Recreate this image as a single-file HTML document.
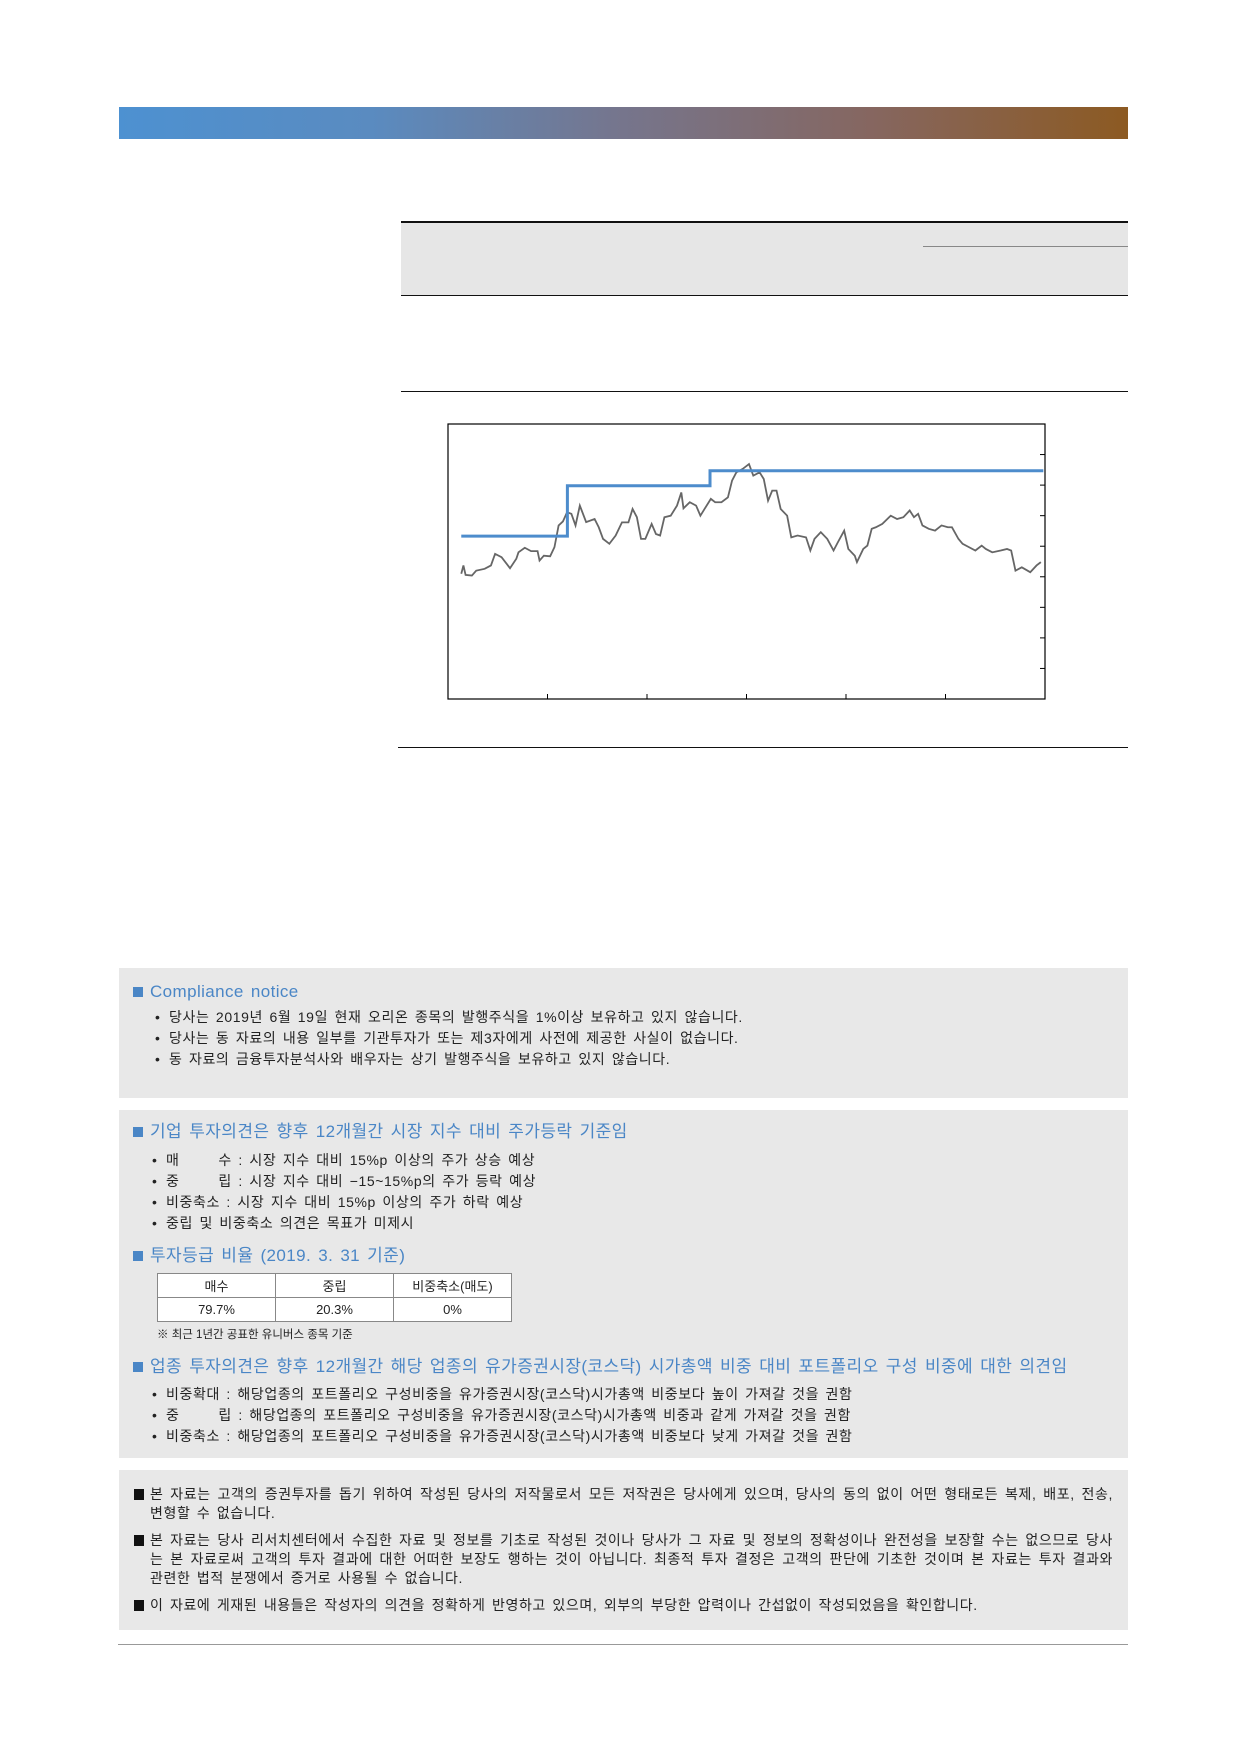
<!DOCTYPE html>
<html><head><meta charset="utf-8">
<style>
*{margin:0;padding:0;box-sizing:border-box}
body{width:1240px;height:1754px;background:#fff;position:relative;font-family:"Liberation Sans","Noto Sans CJK KR",sans-serif;color:#222;overflow:hidden}
.abs{position:absolute}
.box{position:absolute;left:119px;width:1009px;background:#e8e8e8}
.h{position:absolute;left:14px;color:#4a86c6;font-size:17px;letter-spacing:0.4px;word-spacing:2px;white-space:nowrap;line-height:20px}
.h:before{content:"";display:inline-block;width:10px;height:10px;background:#4a86c6;margin-right:7px;vertical-align:0px}
.li{position:absolute;left:47px;font-size:14px;letter-spacing:0.6px;word-spacing:2px;line-height:16px;white-space:nowrap}
.li:before{content:"•";position:absolute;left:-14px}
table{border-collapse:collapse;font-size:13px}
td{border:1px solid #888;text-align:center;height:24px;background:#fff;width:118px}
.p{position:absolute;left:31px;width:963px;font-size:14px;letter-spacing:0.6px;word-spacing:2px;line-height:19px;text-align:justify}
.p:before{content:"";position:absolute;left:-16px;top:4px;width:10px;height:11px;background:#111}
</style></head><body>
<div class="abs" style="left:119px;top:107px;width:1009px;height:32px;background:linear-gradient(90deg,#4d91d1 0%,#5a8bc0 25%,#76758c 50%,#86665f 75%,#8c5a22 100%)"></div>

<div class="abs" style="left:401px;top:221px;width:727px;height:75px;background:#e6e6e6;border-top:2px solid #111;border-bottom:1px solid #111"></div>
<div class="abs" style="left:923px;top:246px;width:205px;height:1px;background:#888"></div>
<div class="abs" style="left:401px;top:391px;width:727px;height:1px;background:#111"></div>
<div class="abs" style="left:398px;top:747px;width:730px;height:1px;background:#111"></div>

<svg class="abs" style="left:0;top:0" width="1240" height="760">
<g id="chart"></g>
</svg>
<script>
const months=[0.80,0.93,1.06,1.44,1.70,2.21,2.59,2.84,3.23,3.74,4.12,4.25,4.63,5.01,5.40,5.52,5.78,6.16,6.42,6.67,6.93,7.18,7.44,7.69,7.95,8.33,8.84,9.09,9.35,9.73,10.11,10.49,10.88,11.13,11.39,11.64,11.90,12.28,12.54,12.79,13.05,13.43,13.81,14.07,14.20,14.58,14.96,15.22,15.47,15.85,16.11,16.49,16.88,17.13,17.39,17.77,18.15,18.41,18.79,19.04,19.30,19.55,19.81,20.06,20.45,20.70,21.08,21.59,21.85,22.10,22.48,22.87,23.25,23.51,23.89,24.14,24.53,24.66,25.04,25.29,25.55,25.80,26.19,26.70,27.08,27.46,27.84,28.10,28.35,28.61,28.99,29.37,29.76,30.14,30.39,30.78,31.03,31.41,31.80,32.18,32.43,32.82,33.33,33.71,33.96,34.22,34.60,35.11,35.49,35.75];
const prices=[4.10,4.37,4.06,4.04,4.20,4.26,4.37,4.75,4.64,4.28,4.59,4.80,4.95,4.84,4.84,4.53,4.69,4.67,4.97,5.68,5.81,6.11,6.06,5.68,6.33,5.79,5.89,5.62,5.24,5.08,5.35,5.78,5.78,6.22,5.95,5.24,5.24,5.73,5.40,5.35,5.95,6.00,6.33,6.76,6.24,6.44,6.33,6.00,6.22,6.55,6.44,6.44,6.60,7.15,7.42,7.53,7.69,7.31,7.42,7.20,6.49,6.82,6.82,6.22,6.00,5.29,5.35,5.29,4.86,5.24,5.46,5.24,4.86,5.13,5.51,4.91,4.69,4.48,4.91,5.02,5.57,5.62,5.73,6.00,5.89,5.95,6.17,5.95,6.06,5.68,5.57,5.51,5.68,5.62,5.62,5.24,5.08,4.97,4.86,5.02,4.91,4.80,4.86,4.91,4.86,4.20,4.31,4.15,4.37,4.48];
const targetMonths=[0.8,7.2,7.2,15.8,15.8,35.9];
const targetPrices=[5.33,5.33,6.98,6.98,7.47,7.47];
const yTicks=[1,2,3,4,5,6,7,8];
const xTicks=[6,12,18,24,30,36];
const L=448,R=1045,T=424,B=699;
const xs=m=>L+m/36*(R-L);
const ys=v=>B-v/9*(B-T);
const ns='http://www.w3.org/2000/svg';
const g=document.getElementById('chart');
function mk(t,a){const e=document.createElementNS(ns,t);for(const k in a)e.setAttribute(k,a[k]);g.appendChild(e);return e;}
const fr=mk('rect',{x:L,y:T,width:R-L,height:B-T,fill:'none',stroke:'#000','stroke-width':1.2});


yTicks.forEach(v=>{const t=mk('line',{x1:R-5,x2:R,y1:ys(v),y2:ys(v),stroke:'#000'});

});
xTicks.forEach(m=>{const t=mk('line',{x1:xs(m),x2:xs(m),y1:B-5,y2:B,stroke:'#000'});

});
const pl=mk('polyline',{points:months.map((m,i)=>xs(m)+','+ys(prices[i])).join(' '),fill:'none',stroke:'#666','stroke-width':1.8});


const tl=mk('polyline',{points:targetMonths.map((m,i)=>xs(m)+','+ys(targetPrices[i])).join(' '),fill:'none',stroke:'#4d8ccc','stroke-width':3});


</script>

<div class="box" style="top:968px;height:130px">
 <div class="h" style="top:14px">Compliance notice</div>
 <div class="li" style="top:41px;left:50px">당사는 2019년 6월 19일 현재 오리온 종목의 발행주식을 1%이상 보유하고 있지 않습니다.</div>
 <div class="li" style="top:62px;left:50px">당사는 동 자료의 내용 일부를 기관투자가 또는 제3자에게 사전에 제공한 사실이 없습니다.</div>
 <div class="li" style="top:83px;left:50px">동 자료의 금융투자분석사와 배우자는 상기 발행주식을 보유하고 있지 않습니다.</div>
</div>

<div class="box" style="top:1110px;height:348px">
 <div class="h" style="top:12px">기업 투자의견은 향후 12개월간 시장 지수 대비 주가등락 기준임</div>
 <div class="li" style="top:42px">매&nbsp;&nbsp;&nbsp;&nbsp;&nbsp;&nbsp;수 : 시장 지수 대비 15%p 이상의 주가 상승 예상</div>
 <div class="li" style="top:63px">중&nbsp;&nbsp;&nbsp;&nbsp;&nbsp;&nbsp;립 : 시장 지수 대비 −15~15%p의 주가 등락 예상</div>
 <div class="li" style="top:84px">비중축소 : 시장 지수 대비 15%p 이상의 주가 하락 예상</div>
 <div class="li" style="top:105px">중립 및 비중축소 의견은 목표가 미제시</div>
 <div class="h" style="top:136px">투자등급 비율 (2019. 3. 31 기준)</div>
 <table class="abs" style="left:38px;top:163px">
  <tr><td>매수</td><td>중립</td><td>비중축소(매도)</td></tr>
  <tr><td>79.7%</td><td>20.3%</td><td>0%</td></tr>
 </table>
 <div class="abs" style="left:38px;top:216px;font-size:11.5px;white-space:nowrap">※ 최근 1년간 공표한 유니버스 종목 기준</div>
 <div class="h" style="top:247px">업종 투자의견은 향후 12개월간 해당 업종의 유가증권시장(코스닥) 시가총액 비중 대비 포트폴리오 구성 비중에 대한 의견임</div>
 <div class="li" style="top:276px">비중확대 : 해당업종의 포트폴리오 구성비중을 유가증권시장(코스닥)시가총액 비중보다 높이 가져갈 것을 권함</div>
 <div class="li" style="top:297px">중&nbsp;&nbsp;&nbsp;&nbsp;&nbsp;&nbsp;립 : 해당업종의 포트폴리오 구성비중을 유가증권시장(코스닥)시가총액 비중과 같게 가져갈 것을 권함</div>
 <div class="li" style="top:318px">비중축소 : 해당업종의 포트폴리오 구성비중을 유가증권시장(코스닥)시가총액 비중보다 낮게 가져갈 것을 권함</div>
</div>

<div class="box" style="top:1470px;height:160px">
 <div class="p" style="top:15px">본 자료는 고객의 증권투자를 돕기 위하여 작성된 당사의 저작물로서 모든 저작권은 당사에게 있으며, 당사의 동의 없이 어떤 형태로든 복제, 배포, 전송, 변형할 수 없습니다.</div>
 <div class="p" style="top:61px">본 자료는 당사 리서치센터에서 수집한 자료 및 정보를 기초로 작성된 것이나 당사가 그 자료 및 정보의 정확성이나 완전성을 보장할 수는 없으므로 당사는 본 자료로써 고객의 투자 결과에 대한 어떠한 보장도 행하는 것이 아닙니다. 최종적 투자 결정은 고객의 판단에 기초한 것이며 본 자료는 투자 결과와 관련한 법적 분쟁에서 증거로 사용될 수 없습니다.</div>
 <div class="p" style="top:126px">이 자료에 게재된 내용들은 작성자의 의견을 정확하게 반영하고 있으며, 외부의 부당한 압력이나 간섭없이 작성되었음을 확인합니다.</div>
</div>
<div class="abs" style="left:118px;top:1644px;width:1010px;height:1px;background:#999"></div>
</body></html>
